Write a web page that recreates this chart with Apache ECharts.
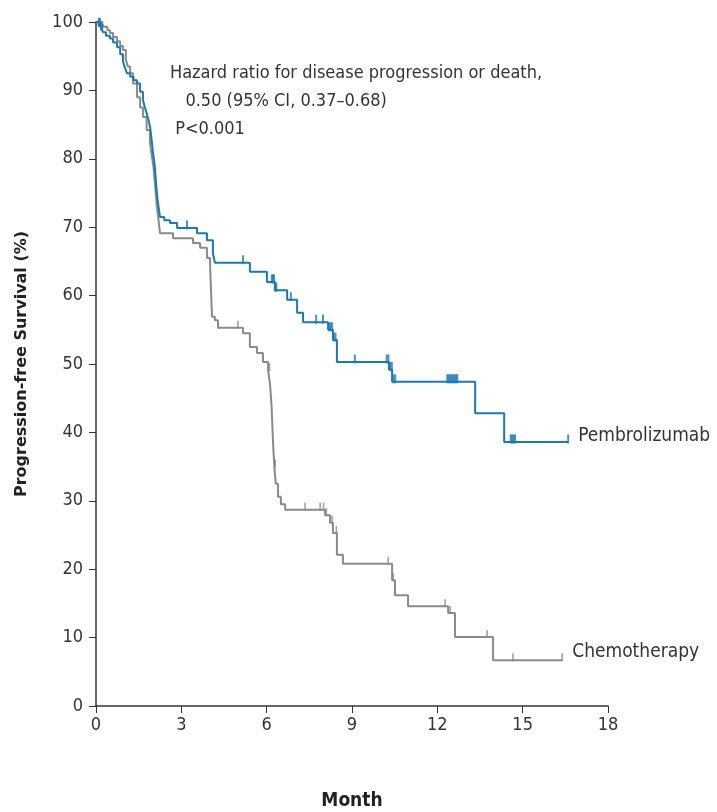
<!DOCTYPE html>
<html><head><meta charset="utf-8">
<script src="https://cdn.jsdelivr.net/npm/echarts@6/dist/echarts.min.js"></script>
<style>html,body{margin:0;padding:0;background:#fff}#c{width:717px;height:812px}</style>
</head><body><div id="c"></div>
<script>
// Kaplan-Meier step points: [month, survival %] (value after each drop)
var pembroSteps = [
  [0,100],[0.1,99.5],[0.18,99],[0.25,98.5],[0.35,98],[0.49,97.6],[0.6,97],[0.74,96.3],[0.85,95.3],
  [0.95,94.2],[1.02,93.3],[1.09,92.5],[1.2,92],[1.32,91.5],[1.44,91],[1.55,89.8],[1.65,88.6],
  [1.72,87.5],[1.79,86.5],[1.85,85.6],[1.90,84.7],[1.95,83],[2.0,81],[2.04,79.8],[2.07,78.8],
  [2.1,77],[2.14,75],[2.18,73.5],[2.25,71.5],[2.4,71],[2.60,70.6],[2.85,69.9],
  [3.55,69.1],[3.90,68.1],[4.11,66.2],[4.18,64.8],[5.41,63.5],[6.01,62],[6.29,60.8],[6.72,59.4],
  [7.07,57.5],[7.28,56.1],[8.16,55],[8.33,53.5],[8.47,50.3],[10.3,49.2],[10.41,47.4],[13.33,42.8],
  [14.35,38.6],[16.6,38.6]
];
var chemoSteps = [
  [0,100],[0.1,99.6],[0.25,99.3],[0.4,98.8],[0.49,98.4],[0.6,97.8],[0.74,97.2],[0.85,96.5],
  [0.95,95.9],[1.05,94.5],[1.12,93.5],[1.20,92.5],[1.3,91],[1.44,89],[1.55,87.5],[1.65,86.1],
  [1.78,84.2],[1.90,82.3],[1.96,80.5],[2.02,78.8],[2.08,76],[2.14,73],[2.2,71],[2.25,69.1],
  [2.71,68.4],[3.41,67.7],[3.66,67],[3.90,65.5],
  [4.01,64.5],[4.05,60],[4.08,56.9],[4.18,56.4],[4.29,55.3],[5.17,54.5],[5.41,52.5],[5.66,51.6],[5.87,50.3],
  [6.05,49.1],[6.12,47],[6.17,44],[6.2,41],[6.23,38],[6.27,35],[6.32,32.5],[6.40,30.6],[6.5,29.5],
  [6.65,28.7],[8.05,27.9],[8.23,26.8],
  [8.33,25.3],[8.47,22.1],[8.68,20.8],[10.41,18.4],[10.51,16.2],[10.97,14.6],[12.38,13.6],
  [12.62,10.1],[13.96,6.7],[16.39,6.7]
];
// censoring times (months)
var pembroCensor = [0.1,0.14,0.18,0.22,3.2,5.17,6.18,6.22,6.26,6.3,6.34,6.85,7.74,7.98,8.2,8.25,8.3,8.36,8.42,
  9.1,10.22,10.28,10.34,10.4,10.46,10.52,12.35,12.4,12.45,12.5,12.55,12.6,12.65,12.7,14.58,14.63,14.68,14.73,16.6];
var chemoCensor = [4.3,4.99,6.1,6.3,7.35,7.88,8.0,8.1,8.3,8.45,10.27,10.45,12.27,12.45,13.75,14.66,16.39];
var xTicks = [0,3,6,9,12,15,18];
var yTicks = [0,10,20,30,40,50,60,70,80,90,100];
var seriesNames = ['Pembrolizumab','Chemotherapy'];
var hrText = ['Hazard ratio for disease progression or death,','   0.50 (95% CI, 0.37\u20130.68)',' P<0.001'];

function valueAt(steps, t){
  var v = steps[0][1];
  for (var i=0;i<steps.length;i++){ if (steps[i][0] <= t) v = steps[i][1]; }
  return v;
}
var BLUE = '#1c78b4', GREY = '#8a8a8a';
var FONT = "'Liberation Sans Narrow','DejaVu Sans Condensed',sans-serif";

var chart = echarts.init(document.getElementById('c'));
chart.setOption({
  animation:false,
  grid:{left:96,right:109,top:22,bottom:106,outerBoundsMode:'none',containLabel:false},
  xAxis:{type:'value',min:0,max:18,interval:3,
    name:'Month',nameLocation:'middle',nameGap:86,
    nameTextStyle:{fontFamily:FONT,fontSize:19,color:'#222',fontWeight:'bold'},
    axisLine:{lineStyle:{color:'#333',width:1.5}},
    axisTick:{length:7,lineStyle:{color:'#333'}},
    axisLabel:{fontFamily:FONT,fontSize:18,color:'#333',margin:10},
    splitLine:{show:false}},
  yAxis:{type:'value',min:0,max:100,interval:10,
    name:'Progression-free Survival (%)',nameLocation:'middle',nameGap:66,nameRotate:90,
    nameTextStyle:{fontFamily:'DejaVu Sans, sans-serif',fontSize:16,color:'#222',fontWeight:'bold'},
    axisLine:{show:true,lineStyle:{color:'#333',width:1.5}},
    axisTick:{show:true,length:7,lineStyle:{color:'#333'}},
    axisLabel:{fontFamily:FONT,fontSize:18,color:'#333',margin:13},
    splitLine:{show:false}},
  series:[
    {name:seriesNames[1],type:'line',step:'end',data:chemoSteps,showSymbol:false,symbol:'none',
      lineStyle:{color:GREY,width:2},z:2,
      endLabel:{show:true,formatter:seriesNames[1],fontFamily:FONT,fontSize:19,color:'#333',distance:10,offset:[0,-8]}},
    {name:seriesNames[0],type:'line',step:'end',data:pembroSteps,showSymbol:false,symbol:'none',
      lineStyle:{color:BLUE,width:2},z:3,
      endLabel:{show:true,formatter:seriesNames[0],fontFamily:FONT,fontSize:19,color:'#333',distance:10,offset:[0,-6]}},
    {type:'scatter',data:chemoCensor.map(function(t){return [t,valueAt(chemoSteps,t)];}),
      symbol:'rect',symbolSize:[1.6,8],symbolOffset:[0,-3],itemStyle:{color:GREY},z:2,silent:true},
    {type:'scatter',data:pembroCensor.map(function(t){return [t,valueAt(pembroSteps,t)];}),
      symbol:'rect',symbolSize:[2,9],symbolOffset:[0,-3],itemStyle:{color:BLUE},z:3,silent:true}
  ],
  graphic:[
    {type:'text',left:170,top:59,style:{text:hrText.join('\n'),fontFamily:FONT,fontSize:18,lineHeight:28,fill:'#333'}}
  ]
});
</script></body></html>
